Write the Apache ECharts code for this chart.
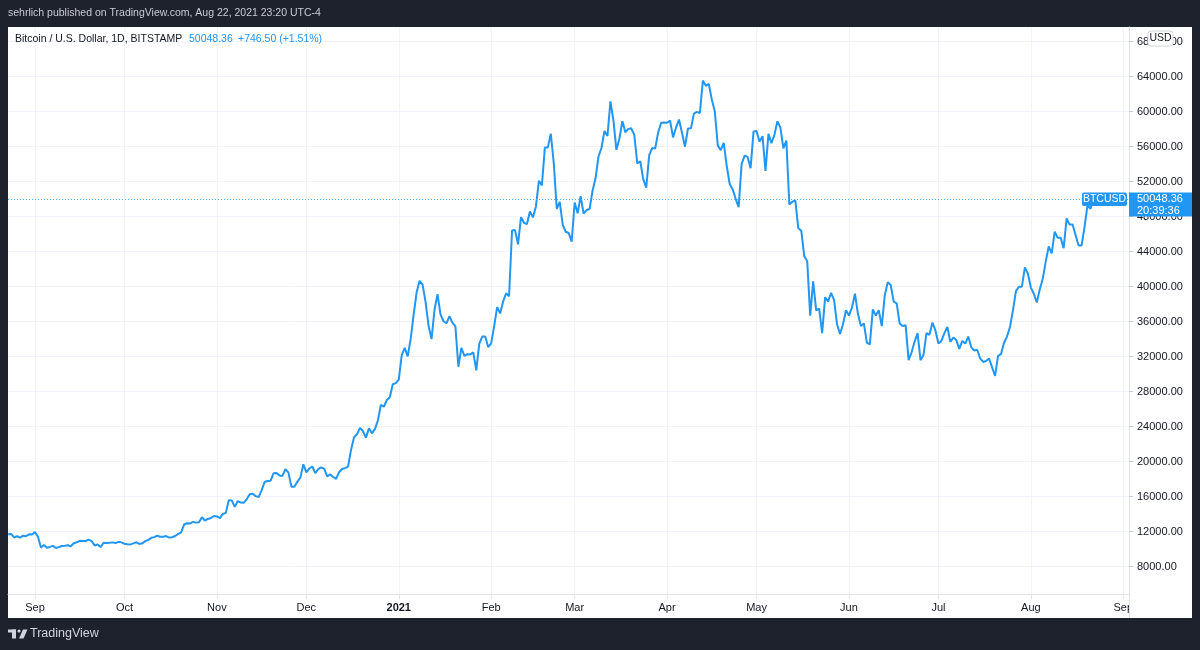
<!DOCTYPE html>
<html>
<head>
<meta charset="utf-8">
<script src="https://cdn.jsdelivr.net/npm/echarts@6/dist/echarts.min.js"></script>
<style>
html,body{margin:0;padding:0;background:#1e222d;}
#chart{width:1200px;height:650px;}
</style>
</head>
<body>
<div id="chart"></div>
<script>
// Daily closes, BTC/USD (Bitstamp)
const aug2020 = [11700, 11750, 11350, 11480, 11330, 11540, 11490, 11700, 11680]; // from Aug 23
const sep2020 = [11950, 11420, 10200, 10480, 10170, 10260, 10380, 10130, 10240, 10360, 10400, 10450, 10330, 10680, 10790, 10960, 10950, 10940, 11090, 10930, 10430, 10540, 10240, 10740, 10700, 10730, 10780, 10700, 10840, 10780];
const oct2020 = [10620, 10570, 10550, 10670, 10790, 10600, 10670, 10920, 11060, 11300, 11380, 11540, 11430, 11430, 11500, 11330, 11370, 11510, 11750, 11920, 12820, 12970, 12930, 13120, 13040, 13070, 13650, 13280, 13460, 13560, 13800];
const nov2020 = [13750, 13550, 14030, 14150, 15590, 15580, 14840, 15480, 15330, 15300, 15700, 16290, 16330, 16070, 15960, 16730, 17680, 17800, 17820, 18680, 18700, 18410, 18370, 19150, 18750, 17150, 17140, 17720, 18180, 19700];
const dec2020 = [18790, 19220, 19450, 18700, 19150, 19360, 19170, 18330, 18550, 18250, 18040, 18800, 19170, 19270, 19440, 21350, 22800, 23130, 23860, 23480, 22750, 23820, 23240, 23730, 24710, 26490, 26280, 27040, 27360, 28850, 28980];
const jan2021 = [29390, 32190, 33000, 32030, 34030, 36820, 39370, 40670, 40240, 38240, 35540, 34010, 37390, 39150, 36830, 36050, 35820, 36630, 35890, 35470, 30850, 33000, 32100, 32280, 32260, 32490, 30430, 33470, 34300, 34300, 33100];
const feb2021 = [33530, 35500, 37660, 36950, 38290, 39250, 38900, 46420, 46470, 44840, 47950, 47300, 47160, 48590, 47920, 49140, 52110, 51570, 55900, 55920, 57480, 54090, 48890, 49680, 47060, 46280, 46140, 45160];
const mar2021 = [49620, 48390, 50350, 48360, 48760, 48880, 50970, 52390, 54880, 55880, 57800, 57230, 61190, 59000, 55640, 56910, 58930, 57650, 58030, 58100, 57350, 54100, 54340, 52300, 51320, 55030, 55840, 55780, 57630, 58730, 58760];
const apr2021 = [58730, 58980, 57060, 58200, 59100, 57600, 56000, 58080, 58100, 59780, 59980, 59850, 63560, 62960, 63170, 61380, 60040, 56150, 55610, 56430, 53790, 51740, 51120, 50040, 49090, 54040, 54990, 54830, 53550, 57750];
const may2021 = [57800, 56580, 57200, 53230, 57460, 56400, 57370, 58900, 58200, 55800, 56700, 49400, 49700, 49900, 46700, 46400, 43500, 42900, 36700, 40600, 37300, 37500, 34700, 38800, 38300, 39300, 38500, 35700, 34600, 35700, 37300];
const jun2021 = [36700, 37600, 39200, 36900, 35500, 35800, 33600, 33400, 37400, 36700, 37300, 35500, 39000, 40500, 40200, 38300, 38100, 35800, 35500, 35600, 31600, 32500, 33700, 34700, 31600, 32200, 34700, 34500, 35900, 35000];
const jul2021 = [33500, 33800, 34700, 35400, 33700, 34200, 33900, 32900, 33800, 33500, 34300, 33100, 32700, 32800, 31800, 31400, 31500, 31800, 30800, 29800, 32100, 32300, 33600, 34300, 35400, 37300, 39500, 40000, 40000, 42200, 41500];
const aug2021 = [39900, 39200, 38200, 39700, 40900, 42900, 44600, 43800, 46300, 45600, 45600, 44400, 47800, 47100, 47100, 45900, 44700, 44700, 46800, 49300, 48900, 50048.36];

const months = [
  [2020, 8, 23, aug2020], [2020, 9, 1, sep2020], [2020, 10, 1, oct2020], [2020, 11, 1, nov2020],
  [2020, 12, 1, dec2020], [2021, 1, 1, jan2021], [2021, 2, 1, feb2021], [2021, 3, 1, mar2021],
  [2021, 4, 1, apr2021], [2021, 5, 1, may2021], [2021, 6, 1, jun2021], [2021, 7, 1, jul2021],
  [2021, 8, 1, aug2021]
];

const monthTickDates = ['2020-09-01','2020-10-01','2020-11-01','2020-12-01','2021-01-01','2021-02-01','2021-03-01','2021-04-01','2021-05-01','2021-06-01','2021-07-01','2021-08-01','2021-09-01'];
const monthTickLabels = ['Sep','Oct','Nov','Dec','2021','Feb','Mar','Apr','May','Jun','Jul','Aug','Sep'];
const priceTicks = [8000,12000,16000,20000,24000,28000,32000,36000,40000,44000,48000,52000,56000,60000,64000,68000];

const lastPrice = 50048.36;
const headerTitle = 'Bitcoin / U.S. Dollar, 1D, BITSTAMP';
const headerPrice = '50048.36';
const headerChange = '+746.50 (+1.51%)';
const publishText = 'sehrlich published on TradingView.com, Aug 22, 2021 23:20 UTC-4';
const countdown = '20:39:36';

const DAY = 86400000;
const series = [];
months.forEach(([y, m, d0, vals]) => {
  vals.forEach((v, i) => series.push([Date.UTC(y, m - 1, d0 + i), v]));
});
const tickValues = monthTickDates.map(s => Date.parse(s + 'T00:00:00Z'));
const sep1 = tickValues[0];

const BLUE = '#2196f3';
const FONT = 'Liberation Sans';

const chart = echarts.init(document.getElementById('chart'), null, {renderer: 'canvas'});
chart.setOption({
  backgroundColor: '#1e222d',
  animation: false,
  grid: {left: 8, right: 71, top: 27, bottom: 56, containLabel: false},
  xAxis: {
    type: 'value',
    min: sep1 - 9.055 * DAY,
    max: sep1 + 366.92 * DAY,
    axisLine: {show: true, lineStyle: {color: '#e0e3eb', width: 1}},
    axisTick: {show: true, customValues: tickValues, length: 5, lineStyle: {color: '#e0e3eb'}},
    splitLine: {show: true, lineStyle: {color: '#f0f3fa', width: 1}},
    axisLabel: {
      customValues: tickValues,
      margin: 8,
      color: '#131722',
      fontFamily: FONT,
      fontSize: 11,
      formatter: function (v) {
        const i = tickValues.indexOf(v);
        const t = i >= 0 ? monthTickLabels[i] : '';
        return t === '2021' ? '{b|2021}' : t;
      },
      rich: {b: {fontWeight: 'bold', fontSize: 11, fontFamily: FONT, color: '#131722'}}
    }
  },
  yAxis: {
    type: 'value',
    position: 'right',
    min: 4880,
    max: 69680,
    axisLine: {show: true, lineStyle: {color: '#e0e3eb', width: 1}},
    axisTick: {show: true, customValues: priceTicks, length: 4, lineStyle: {color: '#c8cbd3'}},
    splitLine: {show: true, lineStyle: {color: '#f0f3fa', width: 1}},
    axisLabel: {
      customValues: priceTicks,
      margin: 8,
      color: '#131722',
      fontFamily: FONT,
      fontSize: 11,
      formatter: v => v.toFixed(2)
    }
  },
  series: [{
    type: 'line',
    data: series,
    showSymbol: false,
    lineStyle: {color: BLUE, width: 2},
    itemStyle: {color: BLUE},
    z: 3,
    markLine: {
      silent: true,
      symbol: ['none', 'none'],
      label: {show: false},
      lineStyle: {color: '#5aaff5', type: [1, 2], width: 1, opacity: 1},
      data: [{yAxis: lastPrice}]
    }
  }]
});

const py = chart.convertToPixel({yAxisIndex: 0}, lastPrice);
const pyTop = Math.round(py) - 6.5;

chart.setOption({
  graphic: [
    // white chart panel
    {type: 'rect', z: -10, silent: true, shape: {x: 8, y: 27, width: 1184, height: 591}, style: {fill: '#ffffff'}},
    // publish line
    {type: 'text', left: 8, top: 8, z: 10, style: {text: publishText, fill: '#c9ccd4', font: '10.5px "Liberation Sans"'}},
    // header
    {type: 'text', x: 15, y: 39, z: 10, style: {text: headerTitle, fill: '#131722', font: '10.5px "Liberation Sans"', verticalAlign: 'middle'}},
    {type: 'text', x: 189, y: 39, z: 10, style: {text: headerPrice, fill: BLUE, font: '10.5px "Liberation Sans"', verticalAlign: 'middle'}},
    {type: 'text', x: 238, y: 39, z: 10, style: {text: headerChange, fill: BLUE, font: '10.5px "Liberation Sans"', verticalAlign: 'middle'}},
    // clip area under the price scale on the time axis row
    {type: 'rect', z: 20, silent: true, shape: {x: 1130, y: 595, width: 62, height: 23}, style: {fill: '#ffffff'}},
    {type: 'line', z: 21, silent: true, shape: {x1: 1129.5, y1: 594, x2: 1129.5, y2: 618}, style: {stroke: '#e0e3eb', lineWidth: 1}},
    // USD badge
    {type: 'rect', z: 20, shape: {x: 1148, y: 31, width: 25, height: 15, r: 3}, style: {fill: '#ffffff', stroke: '#d1d4dc', lineWidth: 1}},
    {type: 'text', z: 21, x: 1160.5, y: 38.5, style: {text: 'USD', fill: '#131722', font: '10.5px "Liberation Sans"', align: 'center', verticalAlign: 'middle'}},
    // BTCUSD label on the line
    {type: 'rect', z: 20, shape: {x: 1082, y: pyTop, width: 45, height: 13.5, r: 2}, style: {fill: BLUE}},
    {type: 'text', z: 21, x: 1104.5, y: pyTop + 7, style: {text: 'BTCUSD', fill: '#ffffff', font: '10.5px "Liberation Sans"', align: 'center', verticalAlign: 'middle'}},
    // price box on the scale
    {type: 'rect', z: 20, shape: {x: 1129, y: pyTop, width: 63, height: 24}, style: {fill: BLUE}},
    {type: 'text', z: 21, x: 1137, y: pyTop + 6.5, style: {text: headerPrice, fill: '#ffffff', font: '11px "Liberation Sans"', verticalAlign: 'middle'}},
    {type: 'text', z: 21, x: 1137, y: pyTop + 18, style: {text: countdown, fill: '#ffffff', font: '11px "Liberation Sans"', verticalAlign: 'middle'}},
    // TradingView footer logo
    {type: 'rect', z: 10, shape: {x: 8, y: 629.5, width: 8, height: 3}, style: {fill: '#d1d4dc'}},
    {type: 'rect', z: 10, shape: {x: 12, y: 629.5, width: 4, height: 9}, style: {fill: '#d1d4dc'}},
    {type: 'circle', z: 10, shape: {cx: 19, cy: 631, r: 1.6}, style: {fill: '#d1d4dc'}},
    {type: 'polygon', z: 10, shape: {points: [[23, 629.5], [27.5, 629.5], [23.5, 638.5], [19, 638.5]]}, style: {fill: '#d1d4dc'}},
    {type: 'text', z: 10, x: 30, y: 634, style: {text: 'TradingView', fill: '#d1d4dc', font: '12.5px "Liberation Sans"', verticalAlign: 'middle'}}
  ]
});
</script>
</body>
</html>
